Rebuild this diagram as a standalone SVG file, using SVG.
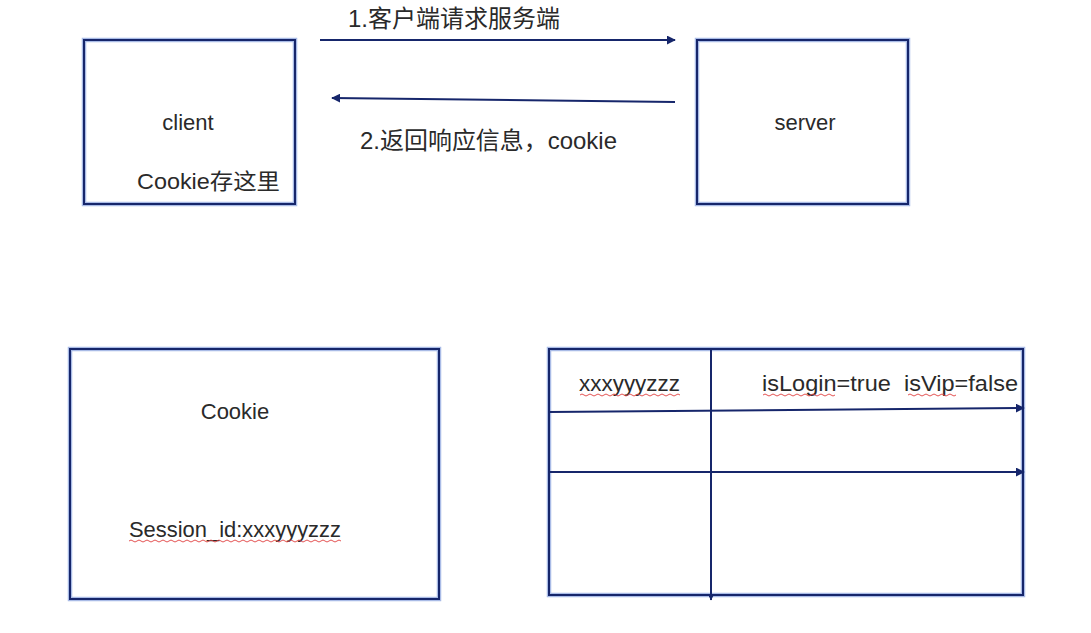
<svg xmlns="http://www.w3.org/2000/svg" width="1091" height="633" viewBox="0 0 1091 633">
<style>
.glow{fill:none;stroke:#a9bbe6;stroke-width:4.5}
.box{fill:none;stroke:#16266b;stroke-width:2}
.ln{fill:none;stroke:#16266b;stroke-width:2}
.t{font-family:"Liberation Sans","Noto Sans CJK SC",sans-serif;font-size:22px;fill:#2a2a2a}
.cn{font-size:24px}
.sq{fill:none;stroke:#e04040;stroke-width:0.9}
</style>
<defs>
<marker id="ah" viewBox="0 0 10 10" refX="9" refY="5" markerWidth="5" markerHeight="5" orient="auto" markerUnits="userSpaceOnUse">
<path d="M0,0 L10,5 L0,10 z" fill="#16266b"/>
</marker>
<marker id="ah2" viewBox="0 0 10 10" refX="9" refY="5" markerWidth="9" markerHeight="9" orient="auto" markerUnits="userSpaceOnUse">
<path d="M0,0 L10,5 L0,10 z" fill="#16266b"/>
</marker>
</defs>
<rect width="1091" height="633" fill="#ffffff"/>
<g id="client">
<rect class="glow" x="84" y="40" width="211" height="164"/>
<rect class="box" x="84" y="40" width="211" height="164"/>
<text class="t" x="188" y="130" text-anchor="middle">client</text>
<text class="t" x="137" y="189" textLength="143" lengthAdjust="spacingAndGlyphs">Cookie存这里</text>
</g>
<g id="server">
<rect class="glow" x="697" y="40" width="211" height="164"/>
<rect class="box" x="697" y="40" width="211" height="164"/>
<text class="t" x="805" y="130" text-anchor="middle">server</text>
</g>
<g id="cookie">
<rect class="glow" x="70" y="349" width="369" height="250"/>
<rect class="box" x="70" y="349" width="369" height="250"/>
<text class="t" x="235" y="419" text-anchor="middle">Cookie</text>
<text class="t" x="129" y="537" textLength="212" lengthAdjust="spacingAndGlyphs">Session_id:xxxyyyzzz</text>
<path class="sq" d="M129,541 q2,-2 4,0 t4,0 t4,0 t4,0 t4,0 t4,0 t4,0 t4,0 t4,0 t4,0 t4,0 t4,0 t4,0 t4,0 t4,0 t4,0 t4,0 t4,0 t4,0 t4,0 t4,0 t4,0 t4,0 t4,0 t4,0 t4,0 t4,0 t4,0 t4,0 t4,0 t4,0 t4,0 t4,0 t4,0 t4,0 t4,0 t4,0 t4,0 t4,0 t4,0 t4,0 t4,0 t4,0 t4,0 t4,0 t4,0 t4,0 t4,0 t4,0 t4,0 t4,0 t4,0 t4,0"/>
</g>
<g id="table">
<rect class="glow" x="549" y="349" width="474" height="246"/>
<rect class="box" x="549" y="349" width="474" height="246"/>
<text class="t" x="579" y="391" textLength="101" lengthAdjust="spacingAndGlyphs">xxxyyyzzz</text>
<path class="sq" d="M580,395 q2,-2 4,0 t4,0 t4,0 t4,0 t4,0 t4,0 t4,0 t4,0 t4,0 t4,0 t4,0 t4,0 t4,0 t4,0 t4,0 t4,0 t4,0 t4,0 t4,0 t4,0 t4,0 t4,0 t4,0 t4,0 t4,0"/>
<text class="t" x="762" y="391" xml:space="preserve" textLength="256" lengthAdjust="spacingAndGlyphs">isLogin=true  isVip=false</text>
<path class="sq" d="M763,395 q2,-2 4,0 t4,0 t4,0 t4,0 t4,0 t4,0 t4,0 t4,0 t4,0 t4,0 t4,0 t4,0 t4,0 t4,0 t4,0 t4,0 t4,0 t4,0"/>
<path class="sq" d="M908,395 q2,-2 4,0 t4,0 t4,0 t4,0 t4,0 t4,0 t4,0 t4,0 t4,0 t4,0 t4,0 t4,0"/>
</g>
<g id="connectors">
<line class="ln" x1="320" y1="40" x2="675" y2="40" marker-end="url(#ah2)"/>
<text class="t cn" x="348" y="27" textLength="212" lengthAdjust="spacingAndGlyphs">1.客户端请求服务端</text>
<line class="ln" x1="675" y1="102" x2="332" y2="98" marker-end="url(#ah2)"/>
<text class="t cn" x="360" y="149" textLength="257" lengthAdjust="spacingAndGlyphs">2.返回响应信息，cookie</text>
<line class="ln" x1="711" y1="349" x2="711" y2="600" marker-end="url(#ah)"/>
<line class="ln" x1="549" y1="412" x2="1024" y2="408" marker-end="url(#ah2)"/>
<line class="ln" x1="549" y1="472" x2="1024" y2="472" marker-end="url(#ah2)"/>
</g>
</svg>
